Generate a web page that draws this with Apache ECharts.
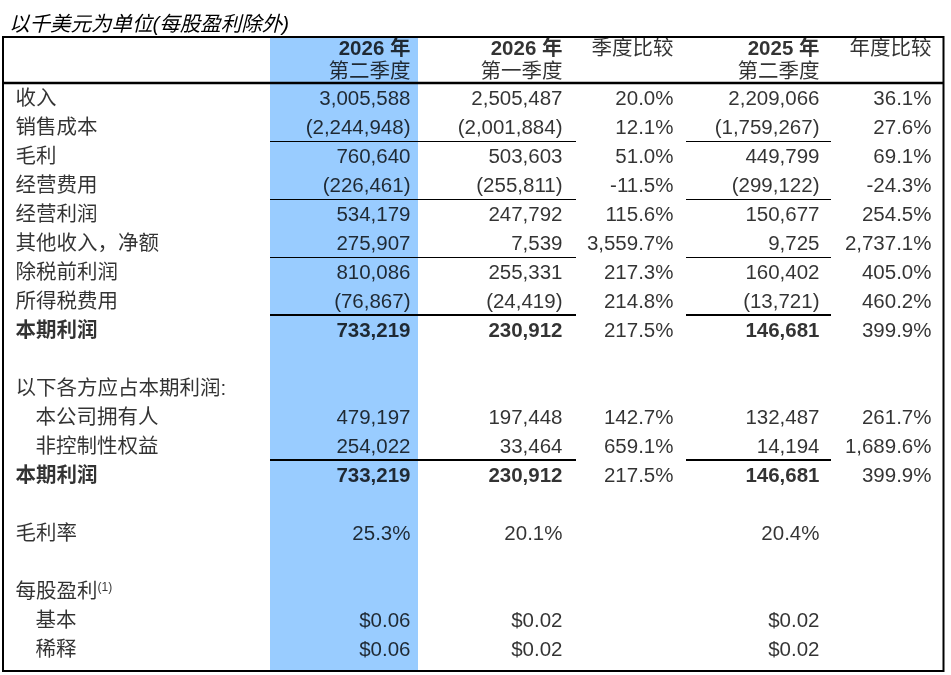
<!DOCTYPE html>
<html>
<head>
<meta charset="utf-8">
<script src="https://cdn.jsdelivr.net/npm/echarts@6/dist/echarts.min.js"></script>
<style>
  html, body { margin: 0; padding: 0; background: #fff; }
  #main { width: 951px; height: 675px; }
</style>
</head>
<body>
<div id="main"></div>
<script>
// 行标签（空字符串为空行）
var rowLabels = ['收入', '销售成本', '毛利', '经营费用', '经营利润', '其他收入，净额', '除税前利润',
  '所得税费用', '本期利润', '', '以下各方应占本期利润:', '本公司拥有人', '非控制性权益', '本期利润',
  '', '毛利率', '', '每股盈利{sup|(1)}', '基本', '稀释'];
// 每行数值类型: amt 千美元, pct 百分比, eps 每股盈利
var rowKind = ['amt', 'amt', 'amt', 'amt', 'amt', 'amt', 'amt', 'amt', 'amt', null, null,
  'amt', 'amt', 'amt', null, 'pct', null, null, 'eps', 'eps'];
var indentRows = [11, 12, 18, 19];
var boldRows = [8, 13];

var q2_2026 = [3005588, -2244948, 760640, -226461, 534179, 275907, 810086, -76867, 733219, null, null,
  479197, 254022, 733219, null, 25.3, null, null, 0.06, 0.06];
var q1_2026 = [2505487, -2001884, 503603, -255811, 247792, 7539, 255331, -24419, 230912, null, null,
  197448, 33464, 230912, null, 20.1, null, null, 0.02, 0.02];
var qoq = [20.0, 12.1, 51.0, -11.5, 115.6, 3559.7, 217.3, 214.8, 217.5, null, null,
  142.7, 659.1, 217.5, null, null, null, null, null, null];
var q2_2025 = [2209066, -1759267, 449799, -299122, 150677, 9725, 160402, -13721, 146681, null, null,
  132487, 14194, 146681, null, 20.4, null, null, 0.02, 0.02];
var yoy = [36.1, 27.6, 69.1, -24.3, 254.5, 2737.1, 405.0, 460.2, 399.9, null, null,
  261.7, 1689.6, 399.9, null, null, null, null, null, null];

var headTop = ['2026 年', '2026 年', '季度比较', '2025 年', '年度比较'];
var headBottom = ['第二季度', '第一季度', '', '第二季度', ''];
var headBold = [true, true, false, true, false];

var columns = [q2_2026, q1_2026, qoq, q2_2025, yoy];
var isPctCol = [false, false, true, false, true];

// 版式
var colRight = [411, 563, 674, 820, 932];
var labelX = 15, indentX = 35;
var ruleThin = [1, 3, 5], ruleThick = [7, 12];
var ruleSpans = [[270, 576], [686, 831]];
var FONT = 'Liberation Sans, Noto Sans CJK SC, sans-serif';
var FS = 20.5;

function fmt(v, kind) {
  if (v == null) return '';
  if (kind === 'pct') {
    return v.toLocaleString('en-US', { minimumFractionDigits: 1, maximumFractionDigits: 1 }) + '%';
  }
  if (kind === 'eps') return '$' + v.toFixed(2);
  var s = Math.abs(v).toLocaleString('en-US');
  return v < 0 ? '(' + s + ')' : s;
}

var myChart = echarts.init(document.getElementById('main'), null, { width: 951, height: 675 });

var series = [];

// 标签列
series.push({
  type: 'scatter',
  xAxisIndex: 0, yAxisIndex: 0,
  symbolSize: 1,
  itemStyle: { color: 'rgba(0,0,0,0)' },
  data: rowLabels.map(function (t, i) {
    return {
      value: [indentRows.indexOf(i) >= 0 ? indentX : labelX, i, t],
      label: { fontWeight: boldRows.indexOf(i) >= 0 ? 'bold' : 'normal' }
    };
  }).filter(function (d) { return d.value[2] !== ''; }),
  label: {
    show: true, position: 'right', distance: 0, offset: [0, 1.5],
    formatter: function (p) { return p.value[2]; },
    fontFamily: FONT, fontSize: FS, color: '#000',
    rich: { sup: { fontSize: 12, fontFamily: FONT, color: '#000', verticalAlign: 'top', padding: [0, 0, 8, 0] } }
  },
  silent: true, z: 5
});

// 数值列
columns.forEach(function (col, c) {
  var data = [];
  col.forEach(function (v, i) {
    if (v == null) return;
    var kind = isPctCol[c] ? 'pct' : rowKind[i];
    var bold = !isPctCol[c] && boldRows.indexOf(i) >= 0;
    data.push({ value: [colRight[c], i, fmt(v, kind)], label: { fontWeight: bold ? 'bold' : 'normal' } });
  });
  var s = {
    type: 'scatter',
    xAxisIndex: 0, yAxisIndex: 0,
    symbolSize: 1,
    itemStyle: { color: 'rgba(0,0,0,0)' },
    data: data,
    label: {
      show: true, position: 'left', distance: 0, offset: [0, 1.5],
      formatter: function (p) { return p.value[2]; },
      fontFamily: FONT, fontSize: FS, color: '#000'
    },
    silent: true, z: 5
  };
  if (c === 0) {
    var lines = [];
    ruleThin.concat(ruleThick).forEach(function (r) {
      var w = ruleThick.indexOf(r) >= 0 ? 2.2 : 1.2;
      ruleSpans.forEach(function (sp) {
        lines.push([{ coord: [sp[0], r + 0.5], lineStyle: { width: w } }, { coord: [sp[1], r + 0.5] }]);
      });
    });
    s.markLine = {
      silent: true, symbol: 'none', label: { show: false },
      lineStyle: { color: '#000', type: 'solid' },
      data: lines
    };
  }
  series.push(s);
});

// 表头
series.push({
  type: 'scatter',
  xAxisIndex: 1, yAxisIndex: 1,
  symbolSize: 1,
  itemStyle: { color: 'rgba(0,0,0,0)' },
  data: [].concat(
    headTop.map(function (t, c) {
      return { value: [colRight[c], 0, t], label: { fontWeight: headBold[c] ? 'bold' : 'normal' } };
    }),
    headBottom.map(function (t, c) {
      return { value: [colRight[c], 1, t] };
    }).filter(function (d) { return d.value[2] !== ''; })
  ),
  label: {
    show: true, position: 'left', distance: 0, offset: [0, 1],
    formatter: function (p) { return p.value[2]; },
    fontFamily: FONT, fontSize: FS, color: '#000'
  },
  silent: true, z: 5
});

var hiddenValueAxis = function (min, max, inverse, grid) {
  return {
    type: 'value', min: min, max: max, inverse: inverse, gridIndex: grid,
    show: false, splitLine: { show: false }
  };
};

var option = {
  animation: false,
  backgroundColor: '#fff',
  title: {
    text: '以千美元为单位(每股盈利除外)',
    left: 4, top: 10,
    textStyle: { fontFamily: FONT, fontSize: 20.5, fontStyle: 'italic', fontWeight: 'normal', color: '#000' }
  },
  grid: [
    { left: 0, right: 0, top: 83.2, height: 580 },
    { left: 0, right: 0, top: 37, height: 46 }
  ],
  xAxis: [hiddenValueAxis(0, 951, false, 0), hiddenValueAxis(0, 951, false, 1)],
  yAxis: [hiddenValueAxis(-0.5, 19.5, true, 0), hiddenValueAxis(-0.5, 1.5, true, 1)],
  graphic: [
    { type: 'rect', z: 0, silent: true, shape: { x: 270, y: 37, width: 148, height: 634 }, style: { fill: '#99CCFF' } },
    { type: 'rect', z: 10, silent: true, shape: { x: 3, y: 37, width: 940.5, height: 634 }, style: { fill: 'none', stroke: '#000', lineWidth: 2 } },
    { type: 'line', z: 10, silent: true, shape: { x1: 3, y1: 83, x2: 943.5, y2: 83 }, style: { stroke: '#000', lineWidth: 2.5 } }
  ],
  series: series
};

myChart.setOption(option);
</script>
</body>
</html>
